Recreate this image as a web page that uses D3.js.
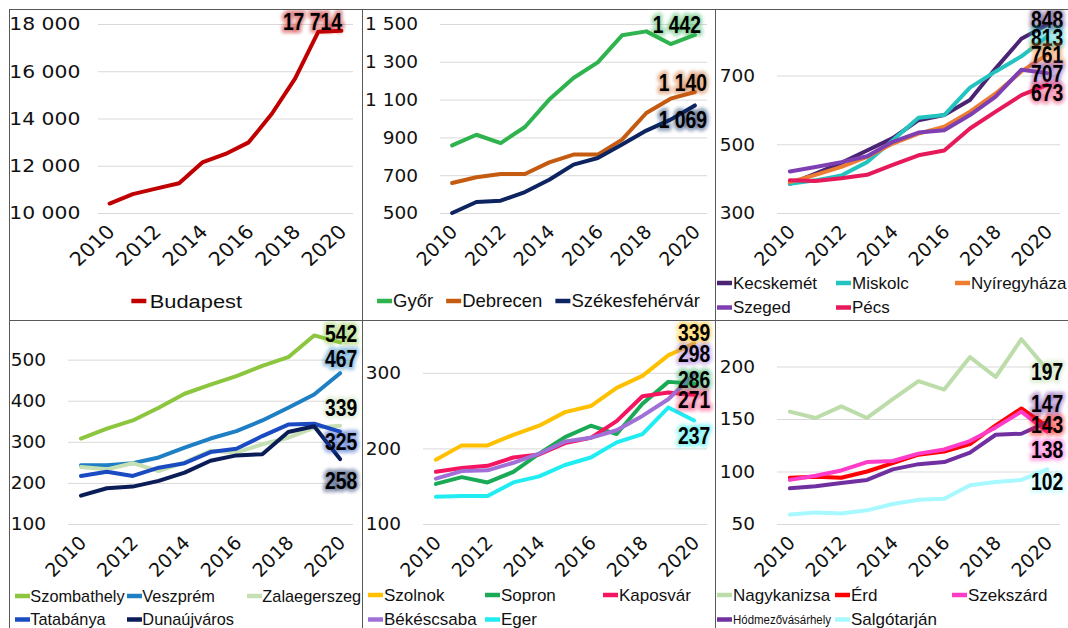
<!DOCTYPE html>
<html>
<head>
<meta charset="utf-8">
<script src="https://cdn.jsdelivr.net/npm/d3@7"></script>
<style>
  body { margin: 0; background: #fff; }
  svg { display: block; }
</style>
</head>
<body>
<svg id="chart" width="1068" height="628"></svg>
<script>
// categories
const years = [2010, 2011, 2012, 2013, 2014, 2015, 2016, 2017, 2018, 2019, 2020];
const yearLabels = [2010, 2012, 2014, 2016, 2018, 2020];

// series values
const budapest = [10400, 10800, 11030, 11260, 12140, 12500, 12990, 14200, 15690, 17670, 17714];

const gyor = [858, 914, 870, 955, 1100, 1214, 1297, 1440, 1461, 1394, 1442];
const debrecen = [659, 689, 706, 706, 768, 809, 809, 888, 1029, 1105, 1140];
const szekesfehervar = [500, 558, 565, 611, 676, 756, 791, 862, 936, 994, 1069];

const kecskemet = [385, 415, 446, 482, 518, 570, 585, 629, 721, 807, 848];
const miskolc = [385, 395, 409, 448, 512, 577, 585, 665, 712, 756, 813];
const nyiregyhaza = [390, 411, 434, 463, 502, 531, 551, 595, 648, 712, 761];
const szeged = [421, 434, 448, 465, 507, 534, 541, 585, 639, 717, 707];
const pecs = [395, 393, 401, 411, 440, 468, 482, 546, 595, 643, 673];

const szombathely = [308, 332, 352, 383, 417, 439, 460, 485, 506, 559, 542];
const veszprem = [243, 243, 248, 262, 286, 308, 326, 352, 383, 415, 467];
const zalaegerszeg = [239, 233, 248, 229, 250, 278, 274, 294, 310, 334, 339];
const tatabanya = [217, 227, 217, 237, 248, 275, 283, 314, 342, 344, 325];
const dunaujvaros = [169, 187, 191, 205, 225, 254, 267, 270, 324, 338, 258];

const szolnok = [185, 204, 204, 218, 230, 248, 256, 280, 296, 323, 339];
const sopron = [153, 162, 155, 169, 193, 215, 230, 219, 259, 288, 286];
const kaposvar = [169, 174, 177, 188, 192, 207, 214, 236, 269, 274, 271];
const bekescsaba = [160, 170, 171, 181, 193, 209, 214, 224, 243, 265, 298];
const eger = [136, 137, 137, 155, 163, 178, 188, 208, 219, 254, 237];

const nagykanizsa = [157, 151, 162, 151, 169, 186, 178, 209, 190, 226, 197];
const erd = [94, 95, 94, 100, 108, 116, 119, 126, 144, 160, 143];
const szekszard = [92, 96, 101, 109, 110, 117, 121, 129, 142, 157, 138];
const hodmezovasarhely = [84, 86, 89, 92, 102, 107, 109, 118, 135, 136, 147];
const salgotarjan = [59, 61, 60, 63, 69, 73, 74, 87, 90, 92, 102];

// value axes
const ticks1 = [10000, 12000, 14000, 16000, 18000];
const ticks2 = [500, 700, 900, 1100, 1300, 1500];
const ticks3 = [300, 500, 700];
const ticks4 = [100, 200, 300, 400, 500];
const ticks5 = [100, 200, 300];
const ticks6 = [50, 100, 150, 200];

const panels = [
  { domain: [10000, 18000], ticks: ticks1, series: [
    { name: 'Budapest', values: budapest, color: '#C00000' }] },
  { domain: [500, 1500], ticks: ticks2, series: [
    { name: 'Győr', values: gyor, color: '#2EB34E' },
    { name: 'Debrecen', values: debrecen, color: '#C55A11' },
    { name: 'Székesfehérvár', values: szekesfehervar, color: '#0E2461' }] },
  { domain: [300, 850], ticks: ticks3, series: [
    { name: 'Kecskemét', values: kecskemet, color: '#4A2472' },
    { name: 'Miskolc', values: miskolc, color: '#23C4C0' },
    { name: 'Nyíregyháza', values: nyiregyhaza, color: '#ED7D31' },
    { name: 'Szeged', values: szeged, color: '#7E3FB2' },
    { name: 'Pécs', values: pecs, color: '#E6195A' }] },
  { domain: [100, 560], ticks: ticks4, series: [
    { name: 'Szombathely', values: szombathely, color: '#8CC63F' },
    { name: 'Veszprém', values: veszprem, color: '#1F7FC4' },
    { name: 'Zalaegerszeg', values: zalaegerszeg, color: '#C6E0B4' },
    { name: 'Tatabánya', values: tatabanya, color: '#1A4BC2' },
    { name: 'Dunaújváros', values: dunaujvaros, color: '#0A1D57' }] },
  { domain: [100, 350], ticks: ticks5, series: [
    { name: 'Szolnok', values: szolnok, color: '#FFC000' },
    { name: 'Sopron', values: sopron, color: '#1AAA55' },
    { name: 'Kaposvár', values: kaposvar, color: '#F5145F' },
    { name: 'Békéscsaba', values: bekescsaba, color: '#A070D8' },
    { name: 'Eger', values: eger, color: '#20EDF2' }] },
  { domain: [50, 230], ticks: ticks6, series: [
    { name: 'Nagykanizsa', values: nagykanizsa, color: '#BCDCAA' },
    { name: 'Érd', values: erd, color: '#FF0000' },
    { name: 'Szekszárd', values: szekszard, color: '#FF3CC8' },
    { name: 'Hódmezővásárhely', values: hodmezovasarhely, color: '#7030A0' },
    { name: 'Salgótarján', values: salgotarjan, color: '#A8F8FF' }] },
];

// layout of each panel (kept apart from the data)
const cellX = [9, 362, 715];
const cellY = [9, 320];
const cellW = 353;
const cellH = [311, 308];
const plotTop = 15;
const plotBottom = 204;
const layout = [
  { col: 0, row: 0, left: 89, right: 344, stretch: 1.1, pad: 16, legendStretch: 1.15, legendSize: 19,
    legend: 'flow', legendY: [292], labelDx: [-29], labelDy: [-9] },
  { col: 1, row: 0, left: 78, right: 345, stretch: 1, pad: 22, legendStretch: 1, legendSize: 18.5,
    legend: 'flow', legendY: [292], labelDx: [-18, -12, -12], labelDy: [-10, -9, 14] },
  { col: 2, row: 0, left: 62, right: 345, stretch: 1, pad: 22, legendStretch: 1, legendSize: 17,
    legend: 'grid', legendCols: [2, 121, 240], legendY: [274, 298.5],
    labelDx: [0, 0, 0, 0, 0], labelDy: [-5, 1, 0, 1, 8] },
  { col: 0, row: 1, left: 59, right: 344, stretch: 1, pad: 22, legendStretch: 0.96, legendSize: 17,
    legend: 'grid', legendCols: [6, 118, 238], legendY: [276, 299.5],
    labelDx: [1, 1, 1, 1, 1], labelDy: [-9, -15, -18.5, 10.5, 22] },
  { col: 1, row: 1, left: 61, right: 345, stretch: 1, pad: 22, legendStretch: 1, legendSize: 17,
    legend: 'grid', legendCols: [6, 123, 241], legendY: [275, 299.5],
    labelDx: [0, 0, 0, 0, 0], labelDy: [-11, -4, 5, -21, 15] },
  { col: 2, row: 1, left: 62, right: 345, stretch: 1, pad: 22, legendStretch: 1, legendSize: 17,
    legend: 'grid', legendCols: [2, 120, 237], legendY: [275, 299.5],
    labelDx: [0, 0, 0, 0, 0], labelDy: [2, -2, 18, -18, 12] },
];
const smallLegend = { 'Hódmezővásárhely': { size: 12.5, length: 98 } };

const tickFont = '"DejaVu Sans", sans-serif';
const legendFont = '"Liberation Sans", Arial, sans-serif';
const labelFont = '"Liberation Sans", Arial, sans-serif';

const fmt = d3.formatLocale({ decimal: ',', thousands: '\u00a0', grouping: [3], currency: ['', ''] }).format(',');

const svg = d3.select('#chart');

const defs = svg.append('defs');
defs.append('filter')
  .attr('id', 'glow')
  .attr('x', '-30%').attr('y', '-30%').attr('width', '160%').attr('height', '160%')
  .append('feGaussianBlur')
  .attr('stdDeviation', 1.6);

panels.forEach((panel, i) => {
  const lay = layout[i];

  defs.append('clipPath')
    .attr('id', `cell${i}`)
    .append('rect')
    .attr('x', 0).attr('y', 0)
    .attr('width', cellW).attr('height', cellH[lay.row]);

  const g = svg.append('g')
    .attr('transform', `translate(${cellX[lay.col]},${cellY[lay.row]})`)
    .append('g')
    .attr('clip-path', `url(#cell${i})`);

  const x = d3.scalePoint()
    .domain(years)
    .range([lay.left, lay.right])
    .padding(0.5);
  const y = d3.scaleLinear()
    .domain(panel.domain)
    .range([plotBottom, plotTop]);

  // value axis + gridlines
  const yAxis = g.append('g')
    .attr('transform', `translate(${lay.left},0)`)
    .call(d3.axisLeft(y)
      .tickValues(panel.ticks)
      .tickSize(-(lay.right - lay.left))
      .tickPadding(lay.pad)
      .tickFormat(fmt));
  yAxis.select('.domain').remove();
  yAxis.selectAll('.tick line').attr('stroke', '#D9D9D9').attr('stroke-width', 1);
  yAxis.selectAll('.tick text')
    .attr('fill', '#111')
    .style('font-family', tickFont)
    .style('font-size', '18.5px')
    .attr('transform', `scale(${lay.stretch},1)`);

  // category axis
  const xAxis = g.append('g')
    .attr('transform', `translate(0,${plotBottom})`)
    .call(d3.axisBottom(x).tickValues(yearLabels).tickSize(0));
  xAxis.select('.domain').remove();
  xAxis.selectAll('.tick text')
    .attr('x', 0).attr('y', 0).attr('dy', 0)
    .attr('fill', '#111')
    .style('font-family', tickFont)
    .style('font-size', '19px')
    .style('text-anchor', 'end')
    .attr('transform', `translate(6,20) scale(${lay.stretch},1) rotate(-45)`);

  // lines
  const line = d3.line()
    .x((d, k) => x(years[k]))
    .y(d => y(d));
  g.append('g')
    .selectAll('path')
    .data(panel.series)
    .join('path')
    .attr('d', d => line(d.values))
    .attr('fill', 'none')
    .attr('stroke', d => d.color)
    .attr('stroke-width', 4)
    .attr('stroke-linejoin', 'round')
    .attr('stroke-linecap', 'round');

  // end labels
  const last = years.length - 1;
  const labels = g.append('g')
    .selectAll('g')
    .data(panel.series)
    .join('g')
    .attr('transform', (d, k) =>
      `translate(${x(years[last]) + lay.labelDx[k]},${y(d.values[last]) + lay.labelDy[k]})`);
  labels.append('text')
    .attr('text-anchor', 'middle')
    .attr('dy', '0.36em')
    .attr('transform', 'scale(0.84,1)')
    .style('font-family', labelFont)
    .style('font-weight', 'bold')
    .style('font-size', '23px')
    .attr('fill', d => d.color)
    .attr('fill-opacity', 0.35)
    .attr('stroke', d => d.color)
    .attr('stroke-opacity', 0.35)
    .attr('stroke-width', 7)
    .attr('stroke-linejoin', 'round')
    .attr('filter', 'url(#glow)')
    .text(d => fmt(d.values[last]));
  labels.append('text')
    .attr('text-anchor', 'middle')
    .attr('dy', '0.36em')
    .attr('transform', 'scale(0.84,1)')
    .style('font-family', labelFont)
    .style('font-weight', 'bold')
    .style('font-size', '23px')
    .attr('fill', '#000')
    .text(d => fmt(d.values[last]));

  // legend
  const leg = g.append('g');
  const items = leg.selectAll('g')
    .data(panel.series)
    .join('g');
  items.append('line')
    .attr('x1', 0).attr('x2', 15)
    .attr('stroke', d => d.color)
    .attr('stroke-width', 4.5);
  items.append('text')
    .attr('x', 16)
    .attr('dy', '0.35em')
    .attr('fill', '#111')
    .style('font-family', legendFont)
    .style('font-size', d => `${smallLegend[d.name] ? smallLegend[d.name].size : lay.legendSize}px`)
    .attr('textLength', d => (smallLegend[d.name] ? smallLegend[d.name].length : null))
    .attr('lengthAdjust', 'spacingAndGlyphs')
    .attr('transform', `scale(${lay.legendStretch},1)`)
    .text(d => d.name);

  if (lay.legend === 'flow') {
    const widths = [];
    items.each(function () {
      widths.push(16 + this.querySelector('text').getComputedTextLength() * lay.legendStretch);
    });
    const gap = 13;
    const total = d3.sum(widths) + gap * (widths.length - 1);
    let cx = (cellW - total) / 2;
    items.attr('transform', (d, k) => {
      const pos = cx;
      cx += widths[k] + gap;
      return `translate(${pos},${lay.legendY[0]})`;
    });
  } else {
    items.attr('transform', (d, k) =>
      `translate(${lay.legendCols[k % 3]},${lay.legendY[Math.floor(k / 3)]})`);
  }
});

// panel frames
const frame = svg.append('g')
  .attr('stroke', '#595959')
  .attr('stroke-width', 1)
  .attr('shape-rendering', 'crispEdges');
frame.append('line').attr('x1', 9).attr('x2', 1068).attr('y1', 9.5).attr('y2', 9.5);
frame.append('line').attr('x1', 9).attr('x2', 1068).attr('y1', 320.5).attr('y2', 320.5);
[9.5, 362.5, 715.5].forEach(px => {
  frame.append('line').attr('x1', px).attr('x2', px).attr('y1', 9).attr('y2', 628);
});
</script>
</body>
</html>
